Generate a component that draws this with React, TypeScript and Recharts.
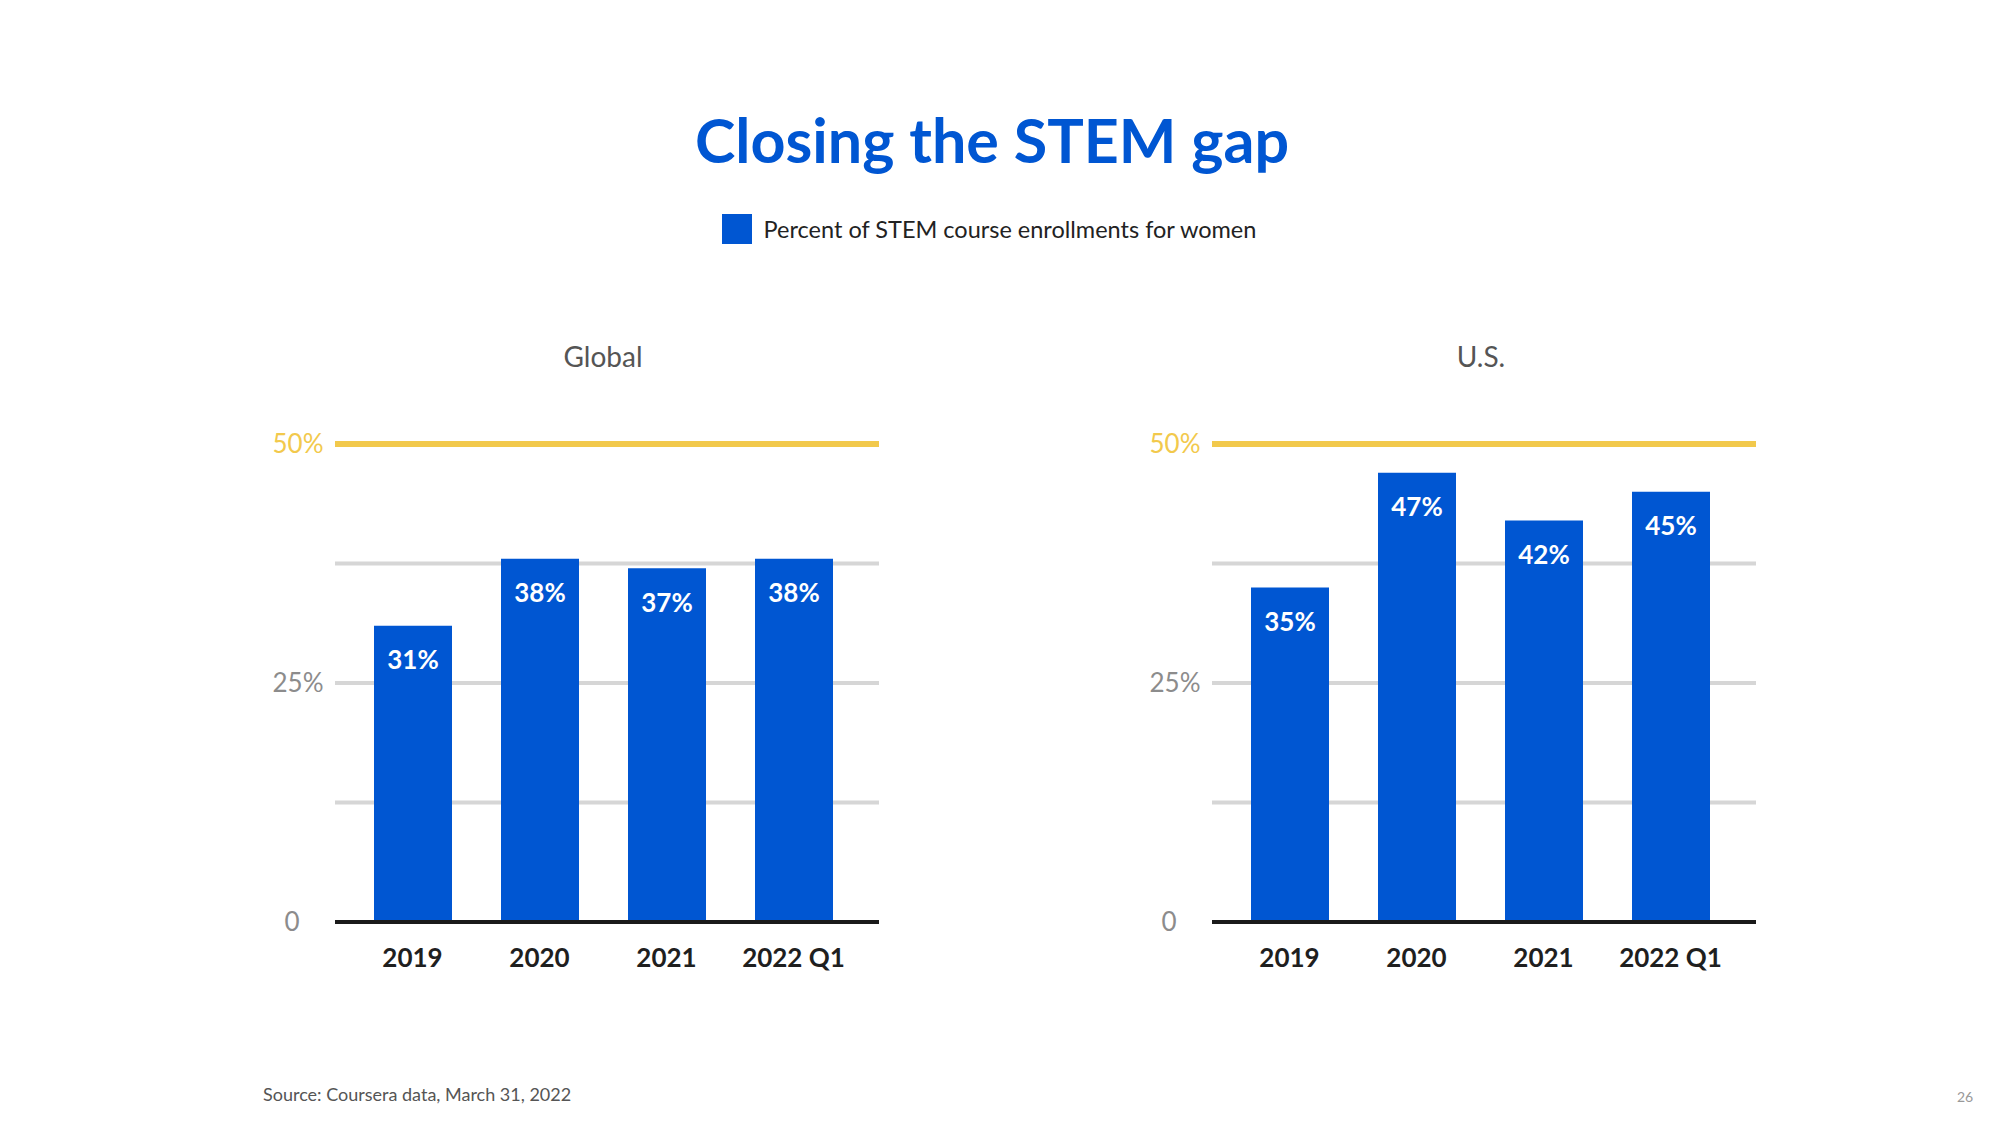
import React from 'react';
import { BarChart, Bar, XAxis, YAxis, CartesianGrid, ReferenceLine, LabelList } from 'recharts';

const categories = ['2019', '2020', '2021', '2022 Q1'];
const globalValues = [31, 38, 37, 38];
const usValues = [35, 47, 42, 45];
const yTicks = [0, 12.5, 25, 37.5, 50];
const labeledTicks = [0, 25, 50];
const panelTitles = ['Global', 'U.S.'];

const BLUE = '#0056D2';
const YELLOW = '#F2C94C';
const FONT = "Lato, 'Noto Sans', 'Open Sans', sans-serif";

const globalData = categories.map((c, i) => ({ name: c, value: globalValues[i] }));
const usData = categories.map((c, i) => ({ name: c, value: usValues[i] }));

const YTick = (props: any) => {
  const { x, y, payload } = props;
  const v = payload.value;
  if (!labeledTicks.includes(v)) return null;
  const text = v === 0 ? '0' : `${v}%`;
  const fill = v === 50 ? YELLOW : '#8c8c8c';
  const cx = v === 0 ? x - 35 : x - 29;
  return (
    <text x={cx} y={y} dy="0.35em" textAnchor="middle" fontSize={26} fill={fill} fontFamily={FONT}>
      {text}
    </text>
  );
};

const Panel = ({ data, left, title, titleShift }: { data: any[]; left: number; title: string; titleShift: number }) => (
  <div style={{ position: 'absolute', left, top: 328, width: 720, height: 700 }}>
    <div
      style={{
        position: 'absolute',
        left: 135 + titleShift,
        width: 544,
        top: 10,
        textAlign: 'center',
        fontSize: 28,
        color: '#555555',
        lineHeight: '36px',
      }}
    >
      {title}
    </div>
    <div style={{ position: 'absolute', left: 0, top: 90 }}>
      <BarChart
        width={720}
        height={604}
        data={data}
        margin={{ top: 26, right: 41, left: 35, bottom: 40 }}
        barCategoryGap={0}
      >
        <CartesianGrid vertical={false} stroke="#d6d6d6" strokeWidth={4} />
        <XAxis
          dataKey="name"
          axisLine={{ stroke: '#1a1a1a', strokeWidth: 4 }}
          tickLine={false}
          tickSize={6}
          tickMargin={21}
          height={60}
          padding={{ left: 14, right: 22 }}
          tick={{ fontSize: 26, fill: '#1f1f1f', fontWeight: 700, fontFamily: FONT }}
          interval={0}
        />
        <YAxis
          domain={[0, 50]}
          ticks={yTicks}
          axisLine={false}
          tickLine={false}
          width={100}
          tick={<YTick />}
          interval={0}
        />
        <Bar dataKey="value" fill={BLUE} barSize={78} isAnimationActive={false}>
          <LabelList
            dataKey="value"
            position="insideTop"
            offset={25}
            formatter={(v: any) => `${v}%`}
            style={{ fontSize: 26, fill: '#ffffff', fontWeight: 700, fontFamily: FONT }}
          />
        </Bar>
        <ReferenceLine y={50} stroke={YELLOW} strokeWidth={6} />
      </BarChart>
    </div>
  </div>
);

export default function App() {
  return (
    <div
      style={{
        position: 'absolute',
        left: 0,
        top: 0,
        width: 2000,
        height: 1125,
        background: '#ffffff',
        fontFamily: FONT,
        overflow: 'hidden',
      }}
    >
      <div
        style={{
          position: 'absolute',
          left: -8,
          width: 2000,
          top: 100,
          textAlign: 'center',
          fontSize: 61,
          fontWeight: 700,
          color: BLUE,
          lineHeight: '80px',
        }}
      >
        Closing the STEM gap
      </div>
      <div
        style={{
          position: 'absolute',
          left: -4,
          width: 2000,
          top: 213,
          display: 'flex',
          justifyContent: 'center',
          alignItems: 'center',
          gap: 12,
        }}
      >
        <div style={{ width: 30, height: 30, background: BLUE, marginLeft: -14 }} />
        <div style={{ fontSize: 23.5, color: '#222222', lineHeight: '32px' }}>
          Percent of STEM course enrollments for women
        </div>
      </div>
      <Panel data={globalData} left={200} title={panelTitles[0]} titleShift={-4} />
      <Panel data={usData} left={1077} title={panelTitles[1]} titleShift={-3} />
      <div style={{ position: 'absolute', left: 263, top: 1083, fontSize: 18, color: '#555555' }}>
        Source: Coursera data, March 31, 2022
      </div>
      <div style={{ position: 'absolute', left: 1957, top: 1088, fontSize: 14, color: '#999999' }}>26</div>
    </div>
  );
}
